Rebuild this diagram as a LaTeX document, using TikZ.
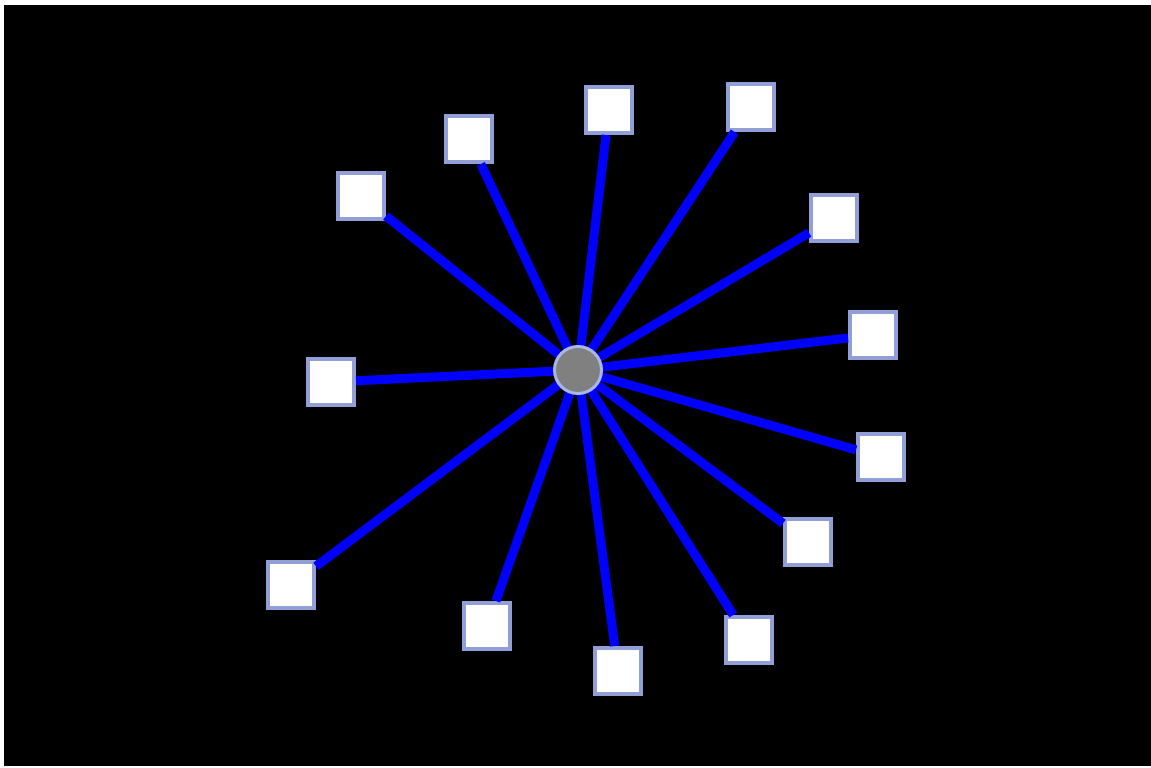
\documentclass[tikz,border=0pt]{standalone}
\definecolor{hubgray}{RGB}{128,128,128}
\definecolor{hubrim}{RGB}{170,182,228}
\definecolor{leafrim}{RGB}{146,158,214}
\definecolor{spokeblue}{RGB}{0,0,255}
\usetikzlibrary{positioning}
\tikzset{
  hub/.style={circle,draw=hubrim,fill=hubgray,line width=3pt,
    minimum size=47pt,inner sep=0pt},
  leaf/.style={rectangle,draw=leafrim,fill=white,line width=4pt,
    minimum size=46pt,inner sep=0pt},
  spoke/.style={draw=spokeblue,line width=9pt},
}
\begin{document}
\begin{tikzpicture}[x=1pt,y=-1pt]
  \useasboundingbox[fill=white] (0,0) rectangle (1151,768);
  \fill[black] (4,5) rectangle (1151,766);

  \coordinate (mid) at (578,370);

  % leaves round the hub, clockwise from the top
  \foreach \px/\py [count=\i] in {609/110,751/107,834/218,873/335,881/457,
      808/542,749/640,618/671,487/626,291/585,331/382,361/196,469/139}{
    \node[leaf] (leaf\i) at (\px,\py) {};
    \draw[spoke] (mid) -- (leaf\i);
  }
  \node[hub] (hub) at (mid) {};
\end{tikzpicture}
\end{document}
